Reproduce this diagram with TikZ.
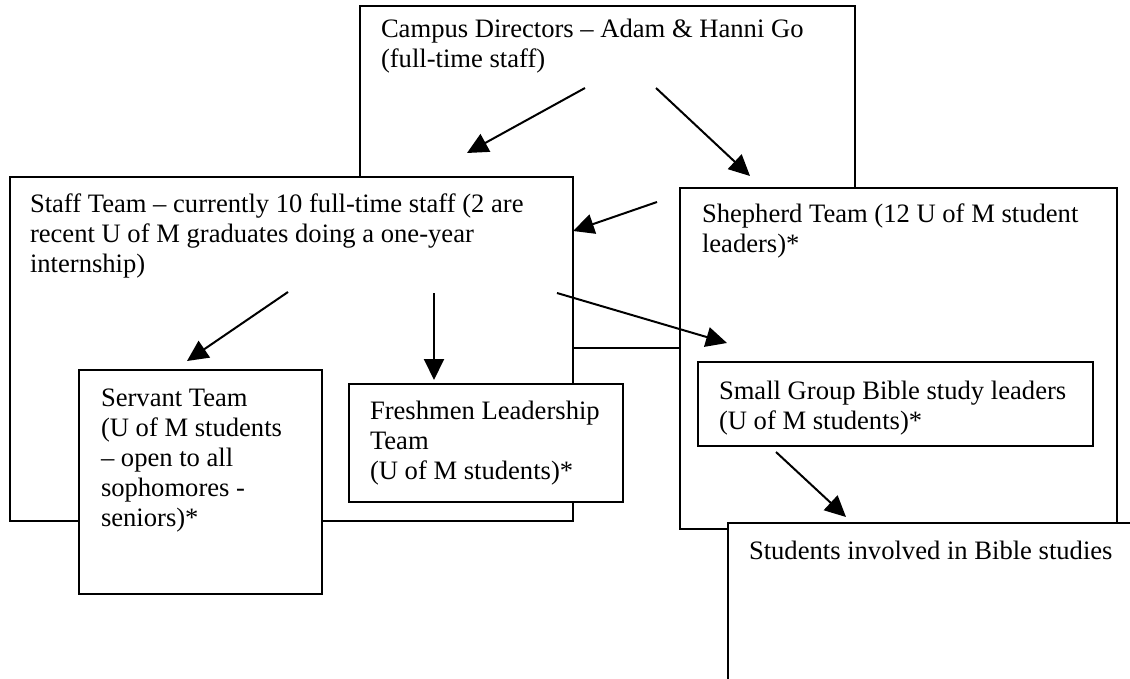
\documentclass[tikz,border=0pt]{standalone}
\usepackage{fontspec}
\setmainfont{Liberation Serif}
\usetikzlibrary{arrows.meta}
\begin{document}
\begin{tikzpicture}[x=1pt,y=-1pt,
  box/.style={draw=black, line width=2pt, fill=white, inner sep=0pt, outer sep=0pt, anchor=north west},
  lbl/.style={anchor=base west, inner sep=0pt, outer sep=0pt, font=\fontsize{26.6}{30}\selectfont},
  arr/.style={draw=black, line width=2pt, -{Triangle[length=21pt,width=20pt]}}]
\useasboundingbox (0,0) rectangle (1130,679);
\clip (0,0) rectangle (1130,679);
\fill[white] (0,0) rectangle (1130,679);
% boxes and texts
\node[box, minimum width=495pt, minimum height=342pt] (camp) at (360,6) {};
\node[lbl] (camptxt) at (381,38) {\begin{tabular}[t]{@{}l@{}}Campus Directors – Adam \& Hanni Go\\(full-time staff)\end{tabular}};
\node[box, minimum width=563pt, minimum height=344pt] (staff) at (10,177) {};
\node[lbl] (stafftxt) at (30,213) {\begin{tabular}[t]{@{}l@{}}Staff Team – currently 10 full-time staff (2 are\\recent U of M graduates doing a one-year\\internship)\end{tabular}};
\node[box, minimum width=437pt, minimum height=341pt] (shep) at (680,188) {};
\node[lbl] (sheptxt) at (702,223) {\begin{tabular}[t]{@{}l@{}}Shepherd Team (12 U of M student\\leaders)*\end{tabular}};
\node[box, minimum width=243pt, minimum height=224pt] (serv) at (79,370) {};
\node[lbl] (servtxt) at (101,406) {\begin{tabular}[t]{@{}l@{}}Servant Team\\(U of M students\\– open to all\\sophomores -\\seniors)*\end{tabular}};
\node[box, minimum width=274pt, minimum height=118pt] (fresh) at (349,384) {};
\node[lbl] (freshtxt) at (370,419) {\begin{tabular}[t]{@{}l@{}}Freshmen Leadership\\Team\\(U of M students)*\end{tabular}};
\node[box, minimum width=395pt, minimum height=84pt] (small) at (698,362) {};
\node[lbl] (smalltxt) at (719,399) {\begin{tabular}[t]{@{}l@{}}Small Group Bible study leaders\\(U of M students)*\end{tabular}};
\node[box, minimum width=450pt, minimum height=220pt] (stud) at (728,523) {};
\node[lbl] (studtxt) at (749,559) {Students involved in Bible studies};
% arrow end points
\coordinate (a1s) at (585,88);  \coordinate (a1e) at (467,153);
\coordinate (a2s) at (656,88);  \coordinate (a2e) at (750,176);
\coordinate (a3s) at (657,202); \coordinate (a3e) at (573,231);
\coordinate (a4s) at (288,292); \coordinate (a4e) at (187,361);
\coordinate (a5s) at (434,293); \coordinate (a5e) at (434,380);
\coordinate (a6s) at (557,293); \coordinate (a6e) at (727,343);
\coordinate (a7s) at (776,452); \coordinate (a7e) at (846,517);
\draw[arr] (a1s) -- (a1e);
\draw[arr] (a2s) -- (a2e);
\draw[arr] (a3s) -- (a3e);
\draw[arr] (a4s) -- (a4e);
\draw[arr] (a5s) -- (a5e);
\draw[arr] (a6s) -- (a6e);
\draw[arr] (a7s) -- (a7e);
\end{tikzpicture}
\end{document}
